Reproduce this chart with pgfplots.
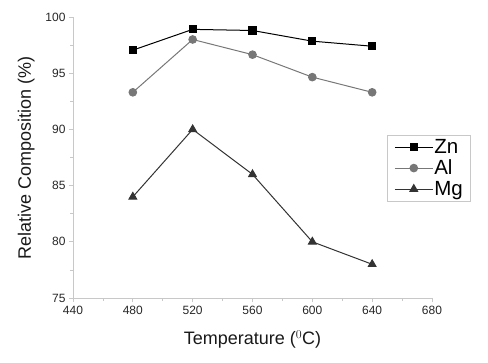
\documentclass[border=0pt]{standalone}
\usepackage{pgfplots}
\pgfplotsset{compat=1.18}
\usepackage{fontspec}
\setmainfont{Liberation Sans}
\definecolor{alcol}{HTML}{777777}
\definecolor{mgcol}{HTML}{333333}
\definecolor{axcol}{HTML}{C8C8C8}
\begin{document}
\begin{tikzpicture}[x=1pt,y=1pt]
\path[use as bounding box] (-73,-64) rectangle (415,298);
\begin{axis}[
  at={(0,0)}, anchor=south west,
  scale only axis, width=359pt, height=281pt,
  xmin=440, xmax=680, ymin=75, ymax=100,
  axis lines*=left,
  axis line style={axcol, line width=0.8pt},
  every tick/.style={axcol, line width=0.8pt},
  xtick={440,480,...,680}, ytick={75,80,...,100},
  minor xtick={460,500,...,660}, minor ytick={77.5,82.5,...,97.5},
  major tick length=4pt, minor tick length=3pt,
  tick align=outside,
  minor tick style={/pgfplots/tick align=inside},
  /pgf/number format/assume math mode=true,
  ticklabel style={font=\fontsize{12}{14}\selectfont, text=black!85},
  xticklabel style={yshift=-1pt},
  xlabel={Temperature ($^{0}$C)}, ylabel={Relative Composition (\%)},
  label style={font=\fontsize{18}{20}\selectfont, text=black!90},
  xlabel style={yshift=-9pt},
  ylabel style={yshift=4pt},
  legend style={at={(387pt-73pt,298pt-135pt)}, anchor=north west, draw=axcol, line width=0.6pt,
    inner xsep=7pt, inner ysep=3pt, row sep=3pt,
    nodes={font=\fontsize{20.5}{23}\selectfont, inner sep=1pt}},
  legend cell align=left,
  legend image code/.code={\draw[#1] (0pt,0pt) -- (38pt,0pt); \draw[#1, only marks] plot coordinates {(19pt,0pt)};},
  clip=false,
]
\addplot[black, line width=1pt, mark=square*, mark size=3.6pt] coordinates {(480,97.05) (520,98.9) (560,98.8) (600,97.85) (640,97.4)};
\addlegendentry{Zn}
\addplot[alcol, line width=1pt, mark=*, mark size=3.8pt] coordinates {(480,93.3) (520,98.0) (560,96.65) (600,94.65) (640,93.3)};
\addlegendentry{Al}
\addplot[mgcol, line width=1pt, mark=triangle*, mark size=4.4pt] coordinates {(480,84) (520,90) (560,86) (600,80) (640,78)};
\addlegendentry{Mg}
\end{axis}
\end{tikzpicture}
\end{document}
